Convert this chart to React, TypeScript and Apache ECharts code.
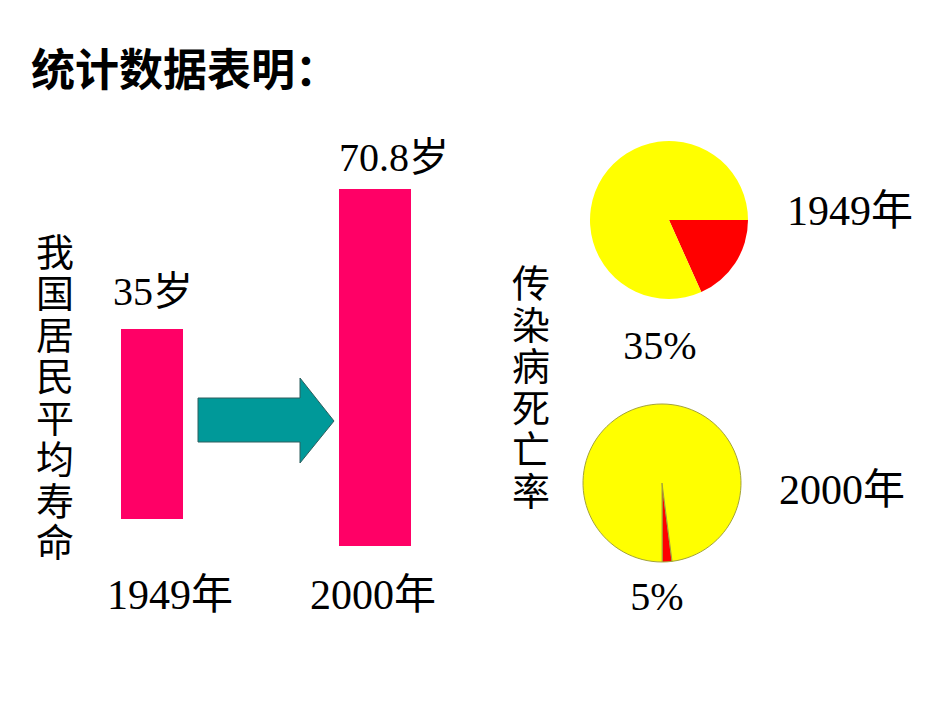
import React, { useEffect, useRef } from "react";
import * as echarts from "echarts";

const years = ["1949年", "2000年"];
const lifeExpectancy = [35, 70.8];
const deathRateLabels = ["35%", "5%"];
// slice sizes as drawn in the picture (red share, yellow share)
const pie1949 = [18.3, 81.7];
const pie2000 = [2.0, 98.0];
const sliceNames = ["死亡", "其他"];

const SERIF = "'Liberation Serif', 'DejaVu Serif', 'Noto Sans CJK SC', serif";
const CJK = "'Noto Sans CJK SC', sans-serif";

export default function App() {
  const ref = useRef<HTMLDivElement>(null);
  useEffect(() => {
    if (!ref.current) return;
    const chart = echarts.init(ref.current, undefined, { renderer: "svg" });
    const barColor = "#FF0066";
    const txt = (x: number, y: number, text: string, size = 42, font = SERIF, extra: any = {}) => ({
      type: "text",
      x,
      y,
      style: {
        text,
        fontSize: size,
        fontFamily: font,
        fill: "#000",
        align: "center",
        verticalAlign: "middle",
        ...extra,
      },
    });
    const option: any = {
      animation: false,
      backgroundColor: "#fff",
      grid: [
        { left: 121, width: 62, top: 329, height: 190 },
        { left: 339, width: 72, top: 189, height: 357 },
      ],
      xAxis: [
        { type: "category", gridIndex: 0, data: [years[0]], show: false },
        { type: "category", gridIndex: 1, data: [years[1]], show: false },
      ],
      yAxis: [
        { type: "value", gridIndex: 0, min: 0, max: lifeExpectancy[0], show: false },
        { type: "value", gridIndex: 1, min: 0, max: lifeExpectancy[1], show: false },
      ],
      series: [
        {
          type: "bar",
          xAxisIndex: 0,
          yAxisIndex: 0,
          data: [lifeExpectancy[0]],
          barWidth: "100%",
          itemStyle: { color: barColor },
          label: {
            show: true,
            position: "top",
            distance: 18,
            offset: [1, 0],
            formatter: "{c}岁",
            fontSize: 40,
            fontFamily: SERIF,
            color: "#000",
          },
        },
        {
          type: "bar",
          xAxisIndex: 1,
          yAxisIndex: 1,
          data: [lifeExpectancy[1]],
          barWidth: "100%",
          itemStyle: { color: barColor },
          label: {
            show: true,
            position: "top",
            distance: 12,
            offset: [19, 0],
            formatter: "{c}岁",
            fontSize: 40,
            fontFamily: SERIF,
            color: "#000",
          },
        },
        {
          type: "pie",
          center: [669, 220],
          radius: [0, 79],
          startAngle: 0,
          clockwise: true,
          label: { show: false },
          labelLine: { show: false },
          data: pie1949.map((v, i) => ({
            value: v,
            name: sliceNames[i],
            itemStyle: { color: i === 0 ? "#FF0000" : "#FFFF00" },
          })),
        },
        {
          type: "pie",
          center: [662, 483],
          radius: [0, 79],
          startAngle: -82.7,
          clockwise: true,
          label: { show: false },
          labelLine: { show: false },
          itemStyle: { borderColor: "#A3A33A", borderWidth: 1 },
          data: pie2000.map((v, i) => ({
            value: v,
            name: sliceNames[i],
            itemStyle: { color: i === 0 ? "#FF0000" : "#FFFF00" },
          })),
        },
      ],
      graphic: [
        txt(185, 67, "统计数据表明：", 44, CJK, { fontWeight: "bold" }),
        txt(55, 398, "我\n国\n居\n民\n平\n均\n寿\n命", 38, SERIF, { lineHeight: 41.5 }),
        txt(531, 388, "传\n染\n病\n死\n亡\n率", 38, SERIF, { lineHeight: 41.5 }),
        txt(170, 595, years[0]),
        txt(373, 595, years[1]),
        txt(850, 211, years[0]),
        txt(842, 490, years[1]),
        txt(660, 345, deathRateLabels[0], 40),
        txt(657, 596, deathRateLabels[1], 40, SERIF, { letterSpacing: 8 } as any),
        {
          type: "polygon",
          shape: {
            points: [
              [198, 398],
              [300, 398],
              [300, 378],
              [334, 421],
              [300, 463],
              [300, 442],
              [198, 442],
            ],
          },
          style: { fill: "#009999", stroke: "#2E5E5E", lineWidth: 1 },
        },
      ],
    };
    chart.setOption(option);
    return () => chart.dispose();
  }, []);
  return <div ref={ref} style={{ position: "absolute", left: 0, top: 0, width: 950, height: 713 }} />;
}
